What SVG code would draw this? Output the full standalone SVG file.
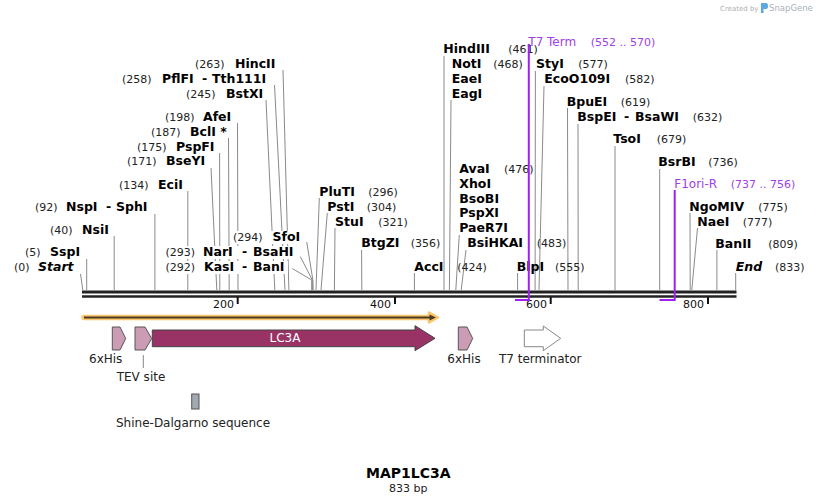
<svg xmlns="http://www.w3.org/2000/svg" width="818" height="504" viewBox="0 0 818 504">
<style>
text{font-family:"DejaVu Sans","Liberation Sans",sans-serif;}
.n{font-size:12.5px;font-weight:bold;fill:#000;}
.ni{font-size:12.5px;font-weight:bold;font-style:italic;fill:#000;}
.p{font-size:11px;fill:#222;}
.pu{font-size:12px;fill:#a040e8;}
.pun{font-size:11px;fill:#a040e8;}
.f{font-size:12px;fill:#222;}
.t{font-size:11px;fill:#111;}
.cut{stroke:#8a8a8a;stroke-width:1;fill:none;}
.prim{stroke:#a020f0;stroke-width:2;fill:none;}
.bg{fill:#fff;}
</style>
<rect width="818" height="504" fill="#fff"/>

<g id="logo">
<text x="720" y="11" style="font-size:7px;fill:#b0b0b0">Created by</text>
<path d="M761 3 L766 3 Q768 3 768 6 L768 7 Q768 9 766 9 L763.5 9 L763.5 13 L761 13 Z" fill="#5aa9e6"/>
<text x="769" y="11" style="font-size:8.5px;fill:#a8b0bc">SnapGene</text>
</g>

<g id="connectors">
<line class="cut" x1="80.5" y1="274" x2="82.8" y2="290"/>
<line class="cut" x1="86.7" y1="259" x2="86.7" y2="290"/>
<line class="cut" x1="114.2" y1="236" x2="114.2" y2="290"/>
<line class="cut" x1="154.9" y1="214" x2="154.9" y2="290"/>
<line class="cut" x1="187.8" y1="191" x2="187.8" y2="290"/>
<line class="cut" x1="211" y1="168" x2="216.8" y2="290"/>
<line class="cut" x1="219.6" y1="153" x2="219.8" y2="290"/>
<line class="cut" x1="228.5" y1="138" x2="229.2" y2="290"/>
<line class="cut" x1="237.5" y1="123" x2="238" y2="290"/>
<line class="cut" x1="266" y1="100" x2="274.8" y2="290"/>
<line class="cut" x1="274.5" y1="85" x2="285" y2="290"/>
<line class="cut" x1="283" y1="70" x2="288.9" y2="290"/>
<line class="cut" x1="319.3" y1="198" x2="316" y2="290"/>
<line class="cut" x1="327.3" y1="213" x2="321" y2="290"/>
<line class="cut" x1="335" y1="228" x2="334.4" y2="290"/>
<line class="cut" x1="361.6" y1="250" x2="361.8" y2="290"/>
<line class="cut" x1="414.4" y1="273" x2="414.4" y2="290"/>
<line class="cut" x1="444" y1="56" x2="444" y2="290"/>
<line class="cut" x1="451" y1="100" x2="449.4" y2="290"/>
<line class="cut" x1="459.3" y1="235" x2="455.8" y2="290"/>
<line class="cut" x1="466" y1="250" x2="461.2" y2="290"/>
<line class="cut" x1="517.6" y1="273" x2="517.6" y2="290"/>
<line class="cut" x1="535.4" y1="71" x2="535.1" y2="290"/>
<line class="cut" x1="544" y1="86" x2="539" y2="290"/>
<line class="cut" x1="567.5" y1="108" x2="568" y2="290"/>
<line class="cut" x1="578" y1="124" x2="578.2" y2="290"/>
<line class="cut" x1="615" y1="146" x2="615" y2="290"/>
<line class="cut" x1="659.7" y1="169" x2="659.7" y2="290"/>
<line class="cut" x1="690" y1="213" x2="690.2" y2="290"/>
<line class="cut" x1="697.5" y1="228" x2="691.8" y2="290"/>
<line class="cut" x1="716.9" y1="250" x2="716.9" y2="290"/>
<line class="cut" x1="735.7" y1="273" x2="735.7" y2="290"/>
</g>

<g id="backbone">
<line x1="82" y1="292" x2="736.5" y2="292" stroke="#222" stroke-width="3"/>
<line x1="82" y1="296.5" x2="736.5" y2="296.5" stroke="#222" stroke-width="2.5"/>
<g stroke="#111" stroke-width="2">
<line x1="237.7" y1="297" x2="237.7" y2="304"/>
<line x1="395" y1="297" x2="395" y2="304"/>
<line x1="550.7" y1="297" x2="550.7" y2="304"/>
<line x1="708" y1="297" x2="708" y2="304"/>
</g>
<text class="t" x="234" y="308" text-anchor="end">200</text>
<text class="t" x="391" y="308" text-anchor="end">400</text>
<text class="t" x="547" y="308" text-anchor="end">600</text>
<text class="t" x="704" y="308" text-anchor="end">800</text>
</g>

<g id="site-start"><text x="14" y="271" class="p">(0)</text><text x="38" y="271" class="ni">Start</text></g>
<g id="site-SspI"><text x="25" y="256" class="p">(5)</text><text x="50" y="256" class="n">SspI</text></g>
<g id="site-NsiI"><text x="50" y="233.5" class="p">(40)</text><text x="82" y="233.5" class="n">NsiI</text></g>
<g id="site-NspI"><text x="35" y="211" class="p">(92)</text><text x="66" y="211" class="n">NspI</text><text x="106" y="211" class="n">-</text><text x="116" y="211" class="n">SphI</text></g>
<g id="site-EciI"><text x="119" y="188.5" class="p">(134)</text><text x="158" y="188.5" class="n">EciI</text></g>
<g id="site-BseYI"><text x="127" y="165" class="p">(171)</text><text x="166" y="165" class="n">BseYI</text></g>
<g id="site-PspFI"><text x="137" y="150.5" class="p">(175)</text><text x="176" y="150.5" class="n">PspFI</text></g>
<g id="site-BclI"><text x="151" y="135.5" class="p">(187)</text><text x="190" y="135.5" class="n">BclI *</text></g>
<g id="site-AfeI"><text x="165" y="120.5" class="p">(198)</text><text x="203" y="120.5" class="n">AfeI</text></g>
<g id="site-BstXI"><text x="186" y="98" class="p">(245)</text><text x="226" y="98" class="n">BstXI</text></g>
<g id="site-PflFI"><text x="122" y="83" class="p">(258)</text><text x="162" y="83" class="n">PflFI</text><text x="202" y="83" class="n">-</text><text x="212" y="83" class="n">Tth111I</text></g>
<g id="site-HincII"><text x="195" y="68" class="p">(263)</text><text x="235" y="68" class="n">HincII</text></g>

<g id="site-cluster-lines">
<polyline class="cut" points="306.7,242 312.9,280 313.2,290"/>
<polyline class="cut" points="300.3,256.5 312.3,280 312.4,290"/>
<polyline class="cut" points="292.3,268.5 311.7,280 311.7,290"/>
</g>
<g id="site-SfoI"><rect class="bg" x="231" y="231" width="71" height="13"/><text x="233" y="241" class="p">(294)</text><text x="272.5" y="241" class="n">SfoI</text></g>
<g id="site-NarI"><rect class="bg" x="163" y="246" width="131" height="13"/><text x="165.5" y="256" class="p">(293)</text><text x="203" y="256" class="n">NarI</text><text x="242" y="256" class="n">-</text><text x="253" y="256" class="n">BsaHI</text></g>
<g id="site-KasI"><rect class="bg" x="163" y="261" width="125" height="13"/><text x="165.5" y="271" class="p">(292)</text><text x="204" y="271" class="n">KasI</text><text x="242" y="271" class="n">-</text><text x="253" y="271" class="n">BanI</text></g>

<g id="site-PluTI"><text x="319.3" y="195.5" class="n">PluTI</text><text x="368.3" y="195.5" class="p">(296)</text></g>
<g id="site-PstI"><text x="327.3" y="210.5" class="n">PstI</text><text x="366.7" y="210.5" class="p">(304)</text></g>
<g id="site-StuI"><text x="335" y="225.5" class="n">StuI</text><text x="378.3" y="225.5" class="p">(321)</text></g>
<g id="site-BtgZI"><text x="361.3" y="247" class="n">BtgZI</text><text x="410.7" y="247" class="p">(356)</text></g>
<g id="site-AccI"><text x="414.3" y="270.5" class="n">AccI</text><text x="457.3" y="270.5" class="p">(424)</text></g>
<g id="site-HindIII"><text x="443.3" y="53" class="n">HindIII</text><text x="508.3" y="53" class="p">(461)</text></g>
<g id="site-NotI"><text x="451.7" y="68" class="n">NotI</text><text x="493.3" y="68" class="p">(468)</text><text x="451.7" y="83" class="n">EaeI</text><text x="451.7" y="98" class="n">EagI</text></g>
<g id="site-AvaI"><text x="459.3" y="173" class="n">AvaI</text><text x="504" y="173" class="p">(476)</text><text x="459.3" y="188" class="n">XhoI</text><text x="459.3" y="202.5" class="n">BsoBI</text><text x="459.3" y="217" class="n">PspXI</text><text x="459.3" y="232" class="n">PaeR7I</text></g>
<g id="site-BsiHKAI"><text x="467.3" y="247" class="n">BsiHKAI</text><text x="536.7" y="247" class="p">(483)</text></g>
<g id="site-BlpI"><text x="516.7" y="270.5" class="n">BlpI</text><text x="555" y="270.5" class="p">(555)</text></g>
<g id="site-StyI"><text x="536" y="68" class="n">StyI</text><text x="578.3" y="68" class="p">(577)</text></g>
<g id="site-EcoO109I"><text x="544.3" y="83" class="n">EcoO109I</text><text x="625" y="83" class="p">(582)</text></g>
<g id="site-BpuEI"><text x="566.7" y="105.5" class="n">BpuEI</text><text x="620.7" y="105.5" class="p">(619)</text></g>
<g id="site-BspEI"><text x="577.3" y="120.5" class="n">BspEI</text><text x="624" y="120.5" class="n">-</text><text x="635" y="120.5" class="n">BsaWI</text><text x="692.7" y="120.5" class="p">(632)</text></g>
<g id="site-TsoI"><text x="613.3" y="143" class="n">TsoI</text><text x="656.7" y="143" class="p">(679)</text></g>
<g id="site-BsrBI"><text x="658.3" y="166" class="n">BsrBI</text><text x="708.3" y="166" class="p">(736)</text></g>
<g id="site-NgoMIV"><text x="689.3" y="211" class="n">NgoMIV</text><text x="758.3" y="211" class="p">(775)</text></g>
<g id="site-NaeI"><text x="697.3" y="225.5" class="n">NaeI</text><text x="742.7" y="225.5" class="p">(777)</text></g>
<g id="site-BanII"><text x="715.3" y="248" class="n">BanII</text><text x="768.3" y="248" class="p">(809)</text></g>
<g id="site-end"><text x="735.7" y="270.5" class="ni">End</text><text x="775" y="270.5" class="p">(833)</text></g>

<g id="primer-T7Term">
<polyline class="prim" points="515,300 528.8,300 528.8,44"/>
<text x="528.3" y="46" class="pu">T7 Term</text><text x="590.7" y="46" class="pun">(552 .. 570)</text>
</g>
<g id="primer-F1ori-R">
<polyline class="prim" points="659.5,300 674.7,300 674.7,190"/>
<text x="674.3" y="188" class="pu">F1ori-R</text><text x="730.7" y="188" class="pun">(737 .. 756)</text>
</g>

<g id="orf">
<line x1="84" y1="317.5" x2="432" y2="317.5" stroke="#fbc66e" stroke-width="5.5" stroke-linecap="round"/>
<polygon points="429,312.5 438,317.5 429,322.5" fill="#fbc66e" stroke="#fbc66e" stroke-width="2.5" stroke-linejoin="round"/>
<line x1="84" y1="317.5" x2="431" y2="317.5" stroke="#4a3b22" stroke-width="1.8"/>
<polygon points="429.5,314.5 436,317.5 429.5,320.5" fill="#4a3b22"/>
</g>

<g id="feat-6xHis-1">
<polygon points="112.3,327 120,327 125.7,338.5 120,350 112.3,350" fill="#cc9bb4" stroke="#555" stroke-width="1"/>
<text x="89" y="362.5" class="f">6xHis</text>
</g>
<g id="feat-TEV">
<polygon points="135,327 145,327 151.7,338.5 145,350 135,350" fill="#cc9bb4" stroke="#555" stroke-width="1"/>
<line x1="143.3" y1="355" x2="143.3" y2="368" stroke="#888" stroke-width="1"/>
<text x="116.7" y="380.5" class="f">TEV site</text>
</g>
<g id="feat-LC3A">
<polygon points="152.3,330 415,330 415,325.7 435,338.3 415,350.7 415,346.7 152.3,346.7" fill="#993366" stroke="#444" stroke-width="1"/>
<text x="285" y="342.2" text-anchor="middle" style="font-size:12px;fill:#fff">LC3A</text>
</g>
<g id="feat-6xHis-2">
<polygon points="458.3,327 467,327 472.7,338.5 467,350 458.3,350" fill="#cc9bb4" stroke="#555" stroke-width="1"/>
<text x="447.3" y="362.5" class="f">6xHis</text>
</g>
<g id="feat-T7terminator">
<polygon points="524.3,330 543.3,330 543.3,326 560.7,338.3 543.3,350.7 543.3,346.7 524.3,346.7" fill="#fff" stroke="#888" stroke-width="1"/>
<text x="499" y="362.5" class="f">T7 terminator</text>
</g>
<g id="feat-SD">
<rect x="191.7" y="394" width="7.3" height="15" fill="#a2a9b2" stroke="#555" stroke-width="1"/>
<text x="116" y="427" class="f">Shine-Dalgarno sequence</text>
</g>

<g id="title">
<text x="408.3" y="478" text-anchor="middle" style="font-size:14px;font-weight:bold;fill:#000">MAP1LC3A</text>
<text x="408.3" y="492" text-anchor="middle" style="font-size:11px;fill:#222">833 bp</text>
</g>
</svg>
